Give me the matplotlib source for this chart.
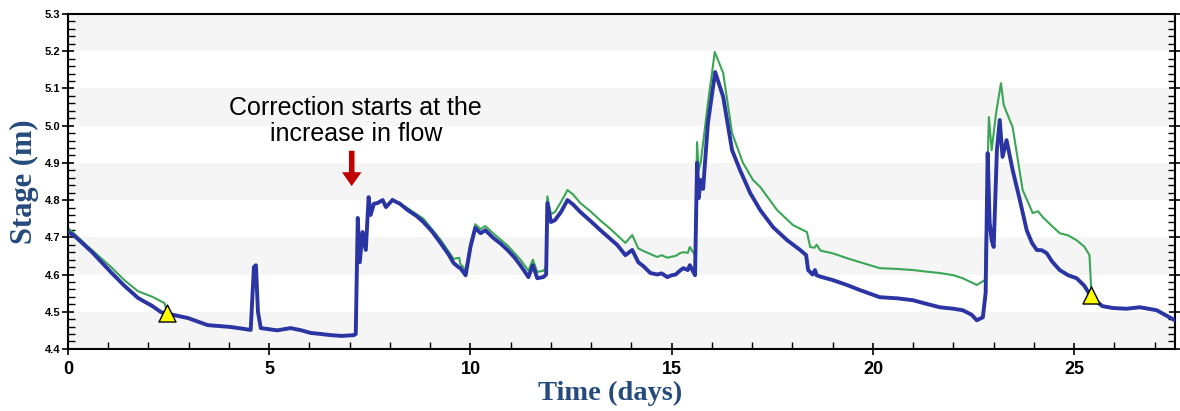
import matplotlib.pyplot as plt
from matplotlib.ticker import MultipleLocator, FormatStrFormatter

obs_days = [0.0, 0.15, 0.6, 1.07, 1.4, 1.74, 2.1, 2.31, 2.46, 2.98, 3.47, 4.04, 4.3, 4.54,
            4.62, 4.67, 4.72, 4.79, 5.2, 5.53, 5.8, 6.03, 6.3, 6.53, 6.8, 7.1,
            7.15, 7.2, 7.25, 7.32, 7.4, 7.47, 7.52, 7.6, 7.69, 7.82, 7.9, 8.06,
            8.25, 8.44, 8.65, 8.83, 9.05, 9.26, 9.45, 9.58, 9.7, 9.75, 9.88, 10.0, 10.12,
            10.25, 10.37, 10.57, 10.75, 10.92, 11.1, 11.24, 11.44, 11.55, 11.66, 11.81,
            11.88, 11.91, 12.0, 12.1, 12.25, 12.41, 12.55, 12.73, 13.0, 13.23, 13.45,
            13.65, 13.85, 14.02, 14.17, 14.3, 14.47, 14.64, 14.75, 14.89, 15.0, 15.1,
            15.2, 15.29, 15.4, 15.45, 15.58, 15.63, 15.67, 15.72, 15.78, 15.9, 16.08,
            16.28, 16.5, 16.7, 16.95, 17.2, 17.52, 17.87, 18.19, 18.34, 18.39, 18.5,
            18.56, 18.6, 18.7, 19.0, 19.35, 19.68, 20.17, 20.6, 20.99, 21.3, 21.66,
            22.0, 22.23, 22.45, 22.58, 22.73, 22.8, 22.85, 22.9, 22.95, 23.0, 23.08,
            23.15, 23.22, 23.32, 23.47, 23.65, 23.82, 23.95, 24.07, 24.2, 24.32, 24.45,
            24.64, 24.85, 25.06, 25.25, 25.43, 25.7, 25.96, 26.3, 26.63, 27.05, 27.5]
obs_stage = [4.714, 4.705, 4.66, 4.606, 4.57, 4.537, 4.515, 4.499, 4.495, 4.483, 4.464,
             4.459, 4.455, 4.451, 4.62, 4.625, 4.5, 4.456, 4.45, 4.456, 4.45, 4.443, 4.44,
             4.437, 4.435, 4.437,
             4.44, 4.752, 4.633, 4.714, 4.666, 4.808, 4.76, 4.79, 4.792, 4.8, 4.781, 4.8,
             4.79, 4.773, 4.758, 4.741, 4.715, 4.684, 4.655, 4.631, 4.62, 4.617, 4.598,
             4.674, 4.725,
             4.711, 4.719, 4.698, 4.683, 4.666, 4.645, 4.625, 4.593, 4.625, 4.59, 4.593,
             4.6, 4.792, 4.741, 4.746, 4.768, 4.8, 4.788, 4.768, 4.742, 4.719, 4.698,
             4.679, 4.652, 4.666, 4.633, 4.622, 4.604, 4.6, 4.603, 4.593, 4.598, 4.6,
             4.61, 4.617, 4.612, 4.625, 4.598, 4.9, 4.805, 4.854, 4.83, 5.007, 5.144,
             5.077, 4.934, 4.88, 4.819, 4.773, 4.727, 4.692, 4.666, 4.652, 4.612, 4.6,
             4.612, 4.598, 4.594, 4.585, 4.572, 4.558, 4.539, 4.536, 4.531, 4.522, 4.512,
             4.508, 4.504, 4.492, 4.477, 4.485, 4.55, 4.926, 4.74, 4.692, 4.674, 4.934,
             5.015, 4.916, 4.961, 4.881, 4.8, 4.719, 4.685, 4.666, 4.665, 4.657, 4.635,
             4.612, 4.598, 4.59, 4.57, 4.539, 4.515, 4.51, 4.508, 4.512, 4.504, 4.477]

# Corrected stage (green), first segment up to the first check point
corr1_days = [0.0, 0.5, 1.07, 1.4, 1.74, 2.1, 2.4, 2.46]
corr1_stage = [4.725, 4.675, 4.62, 4.585, 4.555, 4.54, 4.523, 4.5]

# Corrected stage (green), second segment from the flow increase to the second check point
corr2_days = [8.06, 8.44, 8.83, 9.26, 9.58, 9.72, 9.75, 9.88, 10.0, 10.12, 10.25, 10.37,
              10.57, 10.92, 11.24, 11.44, 11.55, 11.66, 11.81, 11.88, 11.91, 12.0, 12.1,
              12.25, 12.41, 12.55, 12.73, 13.0, 13.23, 13.45, 13.65, 13.85, 14.02, 14.17,
              14.3, 14.47, 14.64, 14.75, 14.89, 15.0, 15.1, 15.2, 15.29, 15.4, 15.45,
              15.5, 15.58, 15.63, 15.67, 15.72, 15.9, 16.07, 16.28, 16.5, 16.77, 17.02,
              17.2, 17.62, 18.01, 18.36, 18.44, 18.55, 18.6, 18.7, 19.0, 19.35, 19.68,
              20.17, 20.6, 20.99, 21.3, 21.66, 22.0, 22.23, 22.58, 22.78, 22.88, 22.95,
              23.06, 23.18, 23.25, 23.47, 23.72, 23.97, 24.1, 24.22, 24.45, 24.64, 24.85,
              25.06, 25.25, 25.38, 25.43]
corr2_stage = [4.803, 4.778, 4.75, 4.693, 4.642, 4.645, 4.628, 4.612, 4.684, 4.735, 4.722,
               4.73, 4.71, 4.678, 4.64, 4.61, 4.64, 4.607, 4.61, 4.62, 4.81, 4.762, 4.768,
               4.795, 4.827, 4.815, 4.792, 4.768, 4.745, 4.725, 4.705, 4.685, 4.706, 4.67,
               4.663, 4.655, 4.647, 4.652, 4.645, 4.648, 4.65, 4.657, 4.66, 4.658, 4.674,
               4.665, 4.652, 4.956, 4.88, 4.9, 5.06, 5.198, 5.141, 4.98, 4.9, 4.854,
               4.835, 4.773, 4.733, 4.714, 4.674, 4.672, 4.68, 4.664, 4.657, 4.644, 4.633,
               4.617, 4.615, 4.612, 4.608, 4.604, 4.598, 4.59, 4.572, 4.585, 5.023, 4.934,
               5.034, 5.114, 5.055, 4.996, 4.827, 4.765, 4.77, 4.754, 4.73, 4.711, 4.705,
               4.692, 4.675, 4.652, 4.545]

# Level check points
check_days = [2.46, 25.43]
check_stage = [4.497, 4.545]

band_starts = [4.4, 4.6, 4.8, 5.0, 5.2]

label_blue = '#254a7c'

fig = plt.figure(figsize=(11.8, 4.11), dpi=100)
ax = fig.add_axes([0.0576, 0.151, 0.938, 0.815])

for b in band_starts:
    ax.axhspan(b, b + 0.1, color='#f5f5f5', zorder=0, lw=0)

ax.plot(corr1_days, corr1_stage, color='#3aa655', lw=1.5, zorder=2)
ax.plot(obs_days, obs_stage, color='#2a35a3', lw=2.8, zorder=3, solid_joinstyle='round')
ax.plot(corr2_days, corr2_stage, color='#3aa655', lw=1.5, zorder=2)
ax.scatter(check_days, check_stage, marker='^', s=150, color='#ffff00',
           edgecolors='black', linewidths=1, zorder=5)

ax.annotate('', xy=(7.05, 4.83), xytext=(7.05, 4.94),
            arrowprops=dict(arrowstyle='simple,head_width=1.4,head_length=1.0,tail_width=0.4',
                            color='#c00000', lw=0))
ax.text(7.15, 5.013, 'Correction starts at the\nincrease in flow', ha='center', va='center',
        fontsize=18, family='Liberation Sans', linespacing=1.1)

ax.set_xlim(0, 27.5)
ax.set_ylim(4.4, 5.3)
ax.xaxis.set_major_locator(MultipleLocator(5))
ax.xaxis.set_minor_locator(MultipleLocator(1))
ax.yaxis.set_major_locator(MultipleLocator(0.1))
ax.yaxis.set_minor_locator(MultipleLocator(0.02))
ax.yaxis.set_major_formatter(FormatStrFormatter('%.1f'))

ax.tick_params(axis='both', which='major', direction='inout', length=9, width=1.2)
ax.tick_params(axis='both', which='minor', direction='in', length=5, width=1)
ax.tick_params(axis='y', which='both', right=True)
ax.tick_params(axis='y', which='major', labelsize=8, pad=1)
ax.tick_params(axis='x', which='major', labelsize=13, pad=4)
for lab in ax.get_xticklabels() + ax.get_yticklabels():
    lab.set_fontweight('bold')
    lab.set_family('Liberation Sans')

for s in ax.spines.values():
    s.set_linewidth(1.5)

ax.set_ylabel('Stage (m)', family='Liberation Serif', fontweight='bold', fontsize=22,
              color=label_blue, labelpad=4)
ax.set_xlabel('Time (days)', family='Liberation Serif', fontweight='bold', fontsize=20.5,
              color=label_blue, labelpad=2)
ax.xaxis.set_label_coords(0.49, -0.095)

fig.savefig('out.png', dpi=100)
